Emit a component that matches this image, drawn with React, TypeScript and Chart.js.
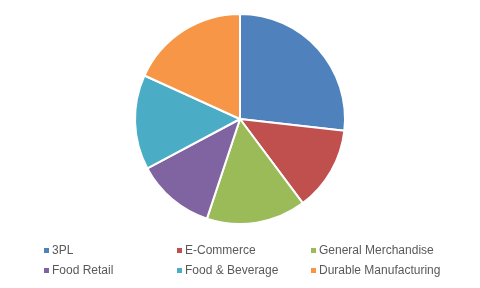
import React, { useEffect, useRef } from "react";
import { Chart, registerables } from "chart.js";

Chart.register(...registerables);

const categories = ["3PL", "E-Commerce", "General Merchandise", "Food Retail", "Food & Beverage", "Durable Manufacturing"];
const shares = [26.8, 13.0, 15.3, 12.1, 14.6, 18.2];
const colors = ["#4F81BD", "#C0504D", "#9BBB59", "#8064A2", "#4BACC6", "#F79646"];

export default function App() {
  const ref = useRef<HTMLCanvasElement | null>(null);

  useEffect(() => {
    document.body.style.margin = "0";
    const chart = new Chart(ref.current as HTMLCanvasElement, {
      type: "pie",
      data: {
        labels: categories,
        datasets: [
          {
            data: shares,
            backgroundColor: colors,
            borderColor: "#FFFFFF",
            borderWidth: 2,
          },
        ],
      },
      options: {
        responsive: false,
        animation: false,
        layout: { padding: { top: 13, bottom: 63, left: 0, right: 0 } },
        plugins: {
          legend: { display: false },
          tooltip: { enabled: false },
        },
      },
    });
    return () => chart.destroy();
  }, []);

  const colX = [44, 177, 311];
  const rowY = [250, 270];

  return (
    <div style={{ position: "relative", width: 480, height: 288, background: "#fff", overflow: "hidden" }}>
      <canvas ref={ref} width={480} height={288} style={{ position: "absolute", left: 0, top: 0 }} />
      {categories.map((c, i) => {
        const col = i % 3;
        const row = Math.floor(i / 3);
        return (
          <div
            key={c}
            style={{
              position: "absolute",
              left: colX[col],
              top: rowY[row] - 8,
              height: 16,
              display: "flex",
              alignItems: "center",
              fontFamily: "'Liberation Sans', Arial, sans-serif",
              fontSize: 12,
              color: "#595959",
              whiteSpace: "nowrap",
            }}
          >
            <span style={{ display: "inline-block", width: 5, height: 5, background: colors[i], marginRight: 3 }} />
            <span>{c}</span>
          </div>
        );
      })}
    </div>
  );
}
